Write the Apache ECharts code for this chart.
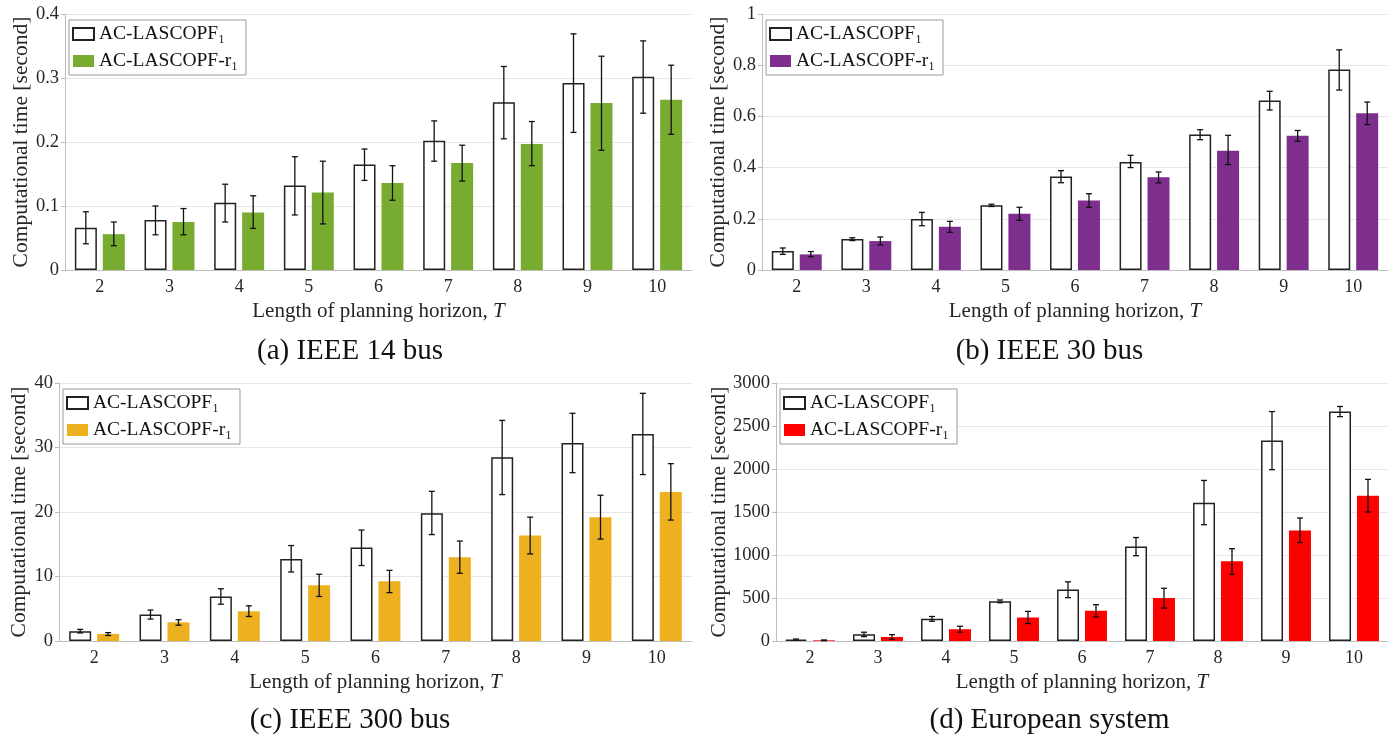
<!DOCTYPE html>
<html>
<head>
<meta charset="utf-8">
<script src="https://cdn.jsdelivr.net/npm/echarts@6/dist/echarts.min.js"></script>
<style>
html, body { margin: 0; padding: 0; background: #fff; }
#wrap { position: relative; width: 1399px; height: 739px; }
.panel { position: absolute; }
</style>
</head>
<body>
<div id="wrap">
  <div class="panel" id="pa" style="left:0;top:0;width:700px;height:370px"></div>
  <div class="panel" id="pb" style="left:700px;top:0;width:699px;height:370px"></div>
  <div class="panel" id="pc" style="left:0;top:370px;width:700px;height:369px"></div>
  <div class="panel" id="pd" style="left:700px;top:370px;width:699px;height:369px"></div>
</div>
<script>
const categories = ['2', '3', '4', '5', '6', '7', '8', '9', '10'];
const baseName = 'AC-LASCOPF\u2081';
const redName = 'AC-LASCOPF-r\u2081';

// (a) IEEE 14 bus
const bus14Base = [0.066, 0.078, 0.105, 0.132, 0.165, 0.202, 0.262, 0.292, 0.302];
const bus14BaseLow = [0.041, 0.055, 0.075, 0.086, 0.140, 0.170, 0.205, 0.215, 0.245];
const bus14BaseHigh = [0.091, 0.100, 0.134, 0.177, 0.189, 0.233, 0.318, 0.369, 0.358];
const bus14Red = [0.056, 0.075, 0.090, 0.121, 0.136, 0.167, 0.197, 0.261, 0.266];
const bus14RedLow = [0.038, 0.055, 0.065, 0.072, 0.109, 0.139, 0.163, 0.187, 0.212];
const bus14RedHigh = [0.075, 0.096, 0.116, 0.170, 0.163, 0.195, 0.232, 0.334, 0.320];

// (b) IEEE 30 bus
const bus30Base = [0.074, 0.121, 0.199, 0.253, 0.365, 0.422, 0.529, 0.662, 0.783];
const bus30BaseLow = [0.061, 0.115, 0.173, 0.248, 0.341, 0.400, 0.509, 0.625, 0.703];
const bus30BaseHigh = [0.086, 0.126, 0.225, 0.257, 0.388, 0.448, 0.548, 0.698, 0.860];
const bus30Red = [0.061, 0.113, 0.169, 0.220, 0.271, 0.362, 0.466, 0.524, 0.612];
const bus30RedLow = [0.052, 0.098, 0.147, 0.194, 0.245, 0.340, 0.412, 0.503, 0.568];
const bus30RedHigh = [0.072, 0.129, 0.190, 0.245, 0.298, 0.383, 0.526, 0.545, 0.656];

// (c) IEEE 300 bus
const bus300Base = [1.5, 4.1, 6.9, 12.7, 14.5, 19.8, 28.5, 30.7, 32.1];
const bus300BaseLow = [1.25, 3.4, 5.7, 10.7, 11.7, 16.5, 22.7, 26.1, 25.8];
const bus300BaseHigh = [1.8, 4.8, 8.1, 14.8, 17.2, 23.2, 34.2, 35.3, 38.4];
const bus300Red = [1.1, 2.9, 4.6, 8.65, 9.25, 13.0, 16.35, 19.2, 23.1];
const bus300RedLow = [0.85, 2.45, 3.8, 6.9, 7.5, 10.5, 13.5, 15.8, 18.75];
const bus300RedHigh = [1.3, 3.3, 5.45, 10.35, 10.95, 15.5, 19.2, 22.6, 27.5];

// (d) European system
const euroBase = [16, 78, 258, 461, 598, 1098, 1609, 2332, 2668];
const euroBaseLow = [8, 51, 230, 445, 504, 992, 1352, 1992, 2609];
const euroBaseHigh = [23, 102, 285, 477, 688, 1203, 1867, 2668, 2727];
const euroRed = [8, 47, 137, 273, 352, 500, 926, 1285, 1688];
const euroRedLow = [4, 20, 102, 203, 281, 383, 773, 1145, 1500];
const euroRedHigh = [12, 74, 172, 344, 422, 613, 1074, 1430, 1879];

const FONT = '"Liberation Serif", "DejaVu Serif", serif';
const TEXT = '#262626';
const BAR_W = 22;
const OFFSET = 14;

function errorBars(low, high, offset) {
    return {
        type: 'custom',
        silent: true,
        z: 10,
        data: categories.map((c, i) => [i, low[i], high[i]]),
        encode: { x: 0, y: [1, 2] },
        renderItem: function (params, api) {
            const top = api.coord([api.value(0), api.value(2)]);
            const bot = api.coord([api.value(0), api.value(1)]);
            const x = top[0] + offset;
            const cap = 3;
            const style = { stroke: '#111', lineWidth: 1.3 };
            return {
                type: 'group',
                children: [
                    { type: 'line', shape: { x1: x, y1: top[1], x2: x, y2: bot[1] }, style: style },
                    { type: 'line', shape: { x1: x - cap, y1: top[1], x2: x + cap, y2: top[1] }, style: style },
                    { type: 'line', shape: { x1: x - cap, y1: bot[1], x2: x + cap, y2: bot[1] }, style: style },
                ],
            };
        },
    };
}

function makePanel(id, p) {
    const chart = echarts.init(document.getElementById(id));
    const grid = Object.assign({ outerBoundsMode: 'none', containLabel: false }, p.grid);
    chart.setOption({
        animation: false,
        title: {
            text: p.caption,
            left: 'center',
            top: p.captionTop,
            textStyle: { fontFamily: FONT, fontSize: 29, fontWeight: 'normal', color: '#111' },
        },
        legend: {
            data: [baseName, redName],
            orient: 'vertical',
            left: p.grid.left + 4,
            top: p.grid.top + 6,
            icon: 'rect',
            itemWidth: 21,
            itemHeight: 12,
            itemGap: 7,
            padding: [4, 8, 4, 3],
            borderColor: '#999',
            borderWidth: 1,
            backgroundColor: '#fff',
            textStyle: { fontFamily: FONT, fontSize: 19.5, color: '#111' },
        },
        grid: grid,
        xAxis: {
            type: 'category',
            data: categories,
            name: '{n|Length of planning horizon, }{i|T}',
            nameLocation: 'middle',
            nameGap: 31,
            nameMoveOverlap: false,
            nameTextStyle: {
                rich: {
                    n: { fontFamily: FONT, fontSize: 21, color: TEXT },
                    i: { fontFamily: FONT, fontSize: 21, fontStyle: 'italic', color: TEXT },
                },
            },
            axisLine: { lineStyle: { color: '#bdbdbd' } },
            axisTick: { alignWithLabel: true, inside: true, length: 5, lineStyle: { color: '#bdbdbd' } },
            axisLabel: { fontFamily: FONT, fontSize: 18, color: TEXT, margin: 8 },
        },
        yAxis: {
            type: 'value',
            min: 0,
            max: p.max,
            interval: p.interval,
            name: 'Computational time [second]',
            nameLocation: 'middle',
            nameGap: p.nameGap,
            nameMoveOverlap: false,
            nameTextStyle: { fontFamily: FONT, fontSize: 21.5, color: TEXT },
            axisLine: { show: true, lineStyle: { color: '#bdbdbd' } },
            axisTick: { show: true, length: 4, lineStyle: { color: '#bdbdbd' } },
            axisLabel: {
                fontFamily: FONT, fontSize: 18.5, color: TEXT, margin: 6,
                formatter: function (v) { return String(v); },
            },
            splitLine: { lineStyle: { color: '#e6e6e6' } },
        },
        series: [
            {
                name: baseName,
                type: 'bar',
                data: p.base,
                barWidth: BAR_W,
                barGap: '27%',
                itemStyle: { color: '#fff', borderColor: '#222', borderWidth: 1.5 },
            },
            {
                name: redName,
                type: 'bar',
                data: p.red,
                barWidth: BAR_W,
                itemStyle: { color: p.color },
            },
            errorBars(p.baseLow, p.baseHigh, -OFFSET),
            errorBars(p.redLow, p.redHigh, OFFSET),
        ],
    });
}

makePanel('pa', {
    caption: '(a) IEEE 14 bus', captionTop: 332,
    grid: { left: 65, right: 8, top: 14, bottom: 100 },
    max: 0.4, interval: 0.1, nameGap: 33, color: '#77AC30',
    base: bus14Base, baseLow: bus14BaseLow, baseHigh: bus14BaseHigh,
    red: bus14Red, redLow: bus14RedLow, redHigh: bus14RedHigh,
});
makePanel('pb', {
    caption: '(b) IEEE 30 bus', captionTop: 332,
    grid: { left: 62, right: 11, top: 14, bottom: 100 },
    max: 1, interval: 0.2, nameGap: 33, color: '#7E2F8E',
    base: bus30Base, baseLow: bus30BaseLow, baseHigh: bus30BaseHigh,
    red: bus30Red, redLow: bus30RedLow, redHigh: bus30RedHigh,
});
makePanel('pc', {
    caption: '(c) IEEE 300 bus', captionTop: 331,
    grid: { left: 59, right: 8, top: 13, bottom: 98 },
    max: 40, interval: 10, nameGap: 29, color: '#EDB120',
    base: bus300Base, baseLow: bus300BaseLow, baseHigh: bus300BaseHigh,
    red: bus300Red, redLow: bus300RedLow, redHigh: bus300RedHigh,
});
makePanel('pd', {
    caption: '(d) European system', captionTop: 331,
    grid: { left: 76, right: 11, top: 13, bottom: 98 },
    max: 3000, interval: 500, nameGap: 46, color: '#FF0000',
    base: euroBase, baseLow: euroBaseLow, baseHigh: euroBaseHigh,
    red: euroRed, redLow: euroRedLow, redHigh: euroRedHigh,
});
</script>
</body>
</html>
